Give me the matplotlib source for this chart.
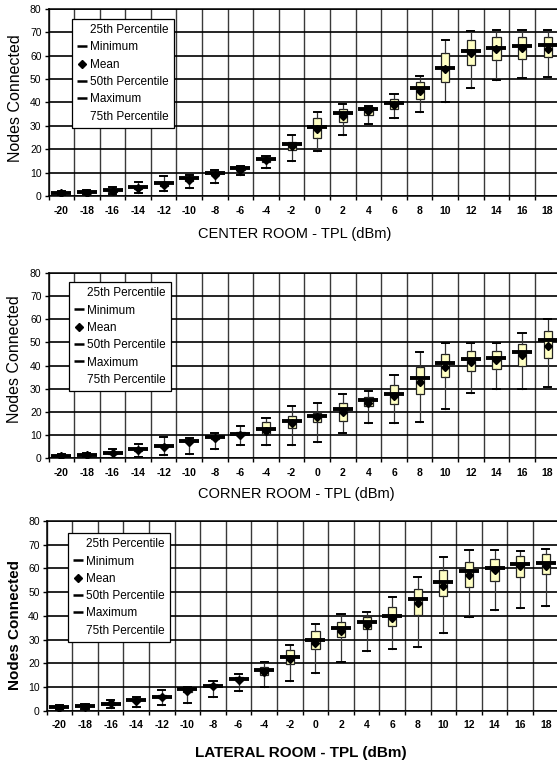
#!/usr/bin/python3
#
# Box plots of nodes connected vs. transmit power level for three room placements.

import matplotlib.pyplot as plt
import matplotlib.ticker as ticker
import numpy as np

from matplotlib import rcParams
from matplotlib.lines import Line2D

tpl_levels = list(range(-20, 20, 2))

# CENTER ROOM
center_min = [0.4, 0.7, 0.7, 1.4, 2.3, 3.3, 5.7, 9.0, 11.9, 15.0,
              19.4, 26.0, 30.8, 33.5, 35.8, 40.3, 46.3, 49.6, 50.6, 51.0]
center_q1 = [1.0, 1.2, 1.8, 2.9, 4.4, 6.6, 8.8, 10.9, 14.5, 19.7,
             24.9, 31.5, 34.6, 37.4, 41.3, 48.8, 56.0, 58.1, 58.8, 59.3]
center_med = [1.4, 1.6, 2.4, 3.7, 5.4, 7.6, 9.7, 11.9, 15.7, 22.1,
              29.6, 35.3, 37.2, 39.6, 46.0, 54.8, 62.1, 63.5, 64.1, 64.5]
center_mean = [1.1, 1.4, 2.1, 3.2, 4.8, 6.8, 9.0, 11.2, 15.2, 21.5,
               28.5, 34.2, 36.5, 38.8, 45.0, 54.3, 61.2, 62.8, 63.1, 63.0]
center_q3 = [1.7, 2.0, 2.9, 4.3, 5.9, 8.1, 10.2, 12.4, 16.3, 23.2,
             33.2, 37.0, 38.0, 41.4, 48.8, 61.0, 66.7, 67.8, 67.8, 67.8]
center_max = [2.1, 2.4, 3.7, 6.1, 8.6, 9.0, 10.9, 12.9, 17.1, 26.0,
              36.0, 39.3, 38.6, 43.7, 51.3, 66.7, 70.4, 70.9, 70.9, 70.9]

# CORNER ROOM
corner_min = [0.3, 0.7, 0.3, 0.7, 1.3, 1.9, 3.9, 5.6, 5.7, 5.7,
              7.3, 11.0, 15.2, 15.2, 15.6, 21.5, 28.0, 29.9, 29.9, 30.8]
corner_q1 = [0.8, 1.3, 1.8, 3.2, 4.8, 6.9, 8.6, 9.9, 10.7, 13.1,
             15.6, 16.3, 22.4, 23.6, 27.8, 34.9, 37.5, 38.4, 39.9, 43.1]
corner_med = [1.1, 1.7, 2.4, 3.9, 5.4, 7.6, 9.3, 10.7, 12.7, 16.3,
              18.3, 21.2, 25.2, 27.7, 34.6, 41.1, 42.7, 43.4, 46.0, 51.0]
corner_mean = [1.0, 1.5, 2.2, 3.6, 5.1, 7.1, 8.8, 10.3, 12.0, 15.3,
               17.9, 19.8, 23.9, 27.1, 33.1, 39.6, 41.7, 42.4, 44.6, 48.6]
corner_q3 = [1.4, 2.0, 2.9, 4.4, 5.9, 8.1, 9.8, 11.3, 15.6, 18.1,
             19.6, 23.9, 26.4, 31.7, 39.6, 44.9, 46.4, 46.4, 49.1, 55.0]
corner_max = [1.8, 2.5, 4.1, 6.4, 9.3, 9.0, 11.0, 13.9, 17.3, 22.4,
              24.1, 27.7, 29.1, 36.0, 46.0, 49.6, 49.6, 49.6, 54.0, 59.9]

# LATERAL ROOM
lateral_min = [0.3, 0.7, 1.0, 1.7, 2.4, 3.4, 5.6, 8.3, 10.1, 12.5,
               15.8, 20.7, 25.2, 25.9, 26.8, 32.7, 39.4, 42.5, 43.5, 44.1]
lateral_q1 = [1.0, 1.6, 2.4, 3.9, 5.3, 8.0, 10.0, 12.8, 15.0, 19.7,
              25.9, 31.0, 34.4, 35.9, 40.4, 48.5, 52.1, 54.8, 56.3, 57.7]
lateral_med = [1.4, 2.1, 2.9, 4.5, 5.9, 9.0, 10.6, 13.5, 17.0, 22.7,
               29.9, 34.8, 37.3, 40.0, 47.0, 54.4, 58.7, 60.1, 62.0, 62.3]
lateral_mean = [1.0, 1.7, 3.2, 4.2, 5.6, 8.4, 10.2, 13.0, 16.1, 21.7,
                28.7, 33.8, 36.2, 39.0, 45.4, 52.7, 57.3, 59.2, 60.8, 61.1]
lateral_q3 = [1.8, 2.5, 3.4, 5.0, 6.4, 9.9, 11.2, 14.2, 18.3, 25.4,
              33.4, 37.6, 39.4, 43.9, 51.4, 59.2, 62.7, 63.9, 65.4, 66.0]
lateral_max = [2.3, 2.8, 4.5, 5.9, 8.7, 10.1, 12.7, 15.6, 20.6, 27.7,
               36.6, 40.7, 41.5, 47.9, 56.2, 64.8, 67.9, 67.9, 67.5, 68.2]

legend_labels = ["25th Percentile", "Minimum", "Mean",
                 "50th Percentile", "Maximum", "75th Percentile"]


def make_stats(mins, q1s, meds, means, q3s, maxs):
    return [
        dict(whislo=lo, q1=q1, med=med, mean=mean, q3=q3, whishi=hi, fliers=[])
        for (lo, q1, med, mean, q3, hi) in zip(mins, q1s, meds, means, q3s, maxs)
    ]


def draw_panel(fig, rect, stats, xlabel, bold, label_pos, legend_anchor):
    ax = fig.add_axes(rect)
    pos = np.arange(len(tpl_levels))
    ax.bxp(
        stats,
        positions=pos,
        widths=0.32,
        capwidths=0.28,
        patch_artist=True,
        showmeans=True,
        showfliers=False,
        boxprops=dict(facecolor="#ffffc4", edgecolor="#222222", linewidth=0.9),
        whiskerprops=dict(color="#333333", linewidth=0.9),
        capprops=dict(color="black", linewidth=1.4),
        medianprops=dict(linewidth=0),
        meanprops=dict(marker="D", markerfacecolor="black",
                       markeredgecolor="black", markersize=4.5),
        zorder=3,
    )
    # Wide, thick median bars sticking out of each box.
    ax.plot(pos, [s["med"] for s in stats], ls="none", marker="_",
            ms=14, mew=2.8, color="black", zorder=4)

    ax.set_xlim(-0.5, len(tpl_levels) - 0.5)
    ax.set_ylim(0, 80)
    ax.set_xticks(pos)
    ax.set_xticklabels([str(t) for t in tpl_levels], fontsize=7.5, fontweight="bold")
    ax.xaxis.set_minor_locator(ticker.FixedLocator(np.arange(-0.5, len(tpl_levels), 1)))
    ax.yaxis.set_major_locator(ticker.MultipleLocator(10))
    ax.tick_params(axis="x", which="major", length=0, pad=7)
    ax.tick_params(axis="x", which="minor", length=3, width=1, direction="out")
    ax.tick_params(axis="y", length=3, width=1, labelsize=7.5, pad=2)

    ax.set_axisbelow(True)
    ax.grid(which="minor", axis="x", color="#3a3a3a", linewidth=1)
    ax.grid(which="major", axis="y", color="black", linewidth=1.2)
    for side in ("left", "bottom", "top"):
        ax.spines[side].set_color("black")
        ax.spines[side].set_linewidth(1.1)
    ax.spines["right"].set_visible(False)

    weight = "bold" if bold else "normal"
    ax.set_xlabel(xlabel, fontsize=11 if bold else 10.5, fontweight=weight)
    ax.xaxis.set_label_coords(label_pos[0], label_pos[1])
    ax.set_ylabel("Nodes Connected", fontsize=11 if bold else 11.5, fontweight=weight)
    ax.yaxis.set_label_coords(label_pos[2], label_pos[3])

    blank = Line2D([], [], ls="none")
    dash = Line2D([], [], ls="none", marker="_", ms=7, mew=1.8, color="black")
    diamond = Line2D([], [], ls="none", marker="D", ms=4.5, color="black")
    leg = ax.legend(
        [blank, dash, diamond, dash, dash, blank],
        legend_labels,
        loc="upper left",
        bbox_to_anchor=legend_anchor,
        borderaxespad=0,
        fancybox=False,
        framealpha=1,
        edgecolor="black",
        fontsize=8.5,
        handlelength=0.8,
        handletextpad=0.3,
        labelspacing=0.45,
        borderpad=0.45,
    )
    leg.get_frame().set_linewidth(0.9)
    leg.set_zorder(5)
    return ax


def main():
    rcParams["font.family"] = ["Liberation Sans", "DejaVu Sans"]
    fig = plt.figure(figsize=(5.57, 7.64), dpi=100)

    panels = [
        ((0.0871, 0.7435, 0.919, 0.2448),
         make_stats(center_min, center_q1, center_med, center_mean, center_q3, center_max),
         "CENTER ROOM - TPL (dBm)", False, (0.481, -0.166, -0.05, 0.524), (0.046, 0.947)),
        ((0.0871, 0.3999, 0.919, 0.2432),
         make_stats(corner_min, corner_q1, corner_med, corner_mean, corner_q3, corner_max),
         "CORNER ROOM - TPL (dBm)", False, (0.484, -0.153, -0.051, 0.533), (0.04, 0.95)),
        ((0.0838, 0.0698, 0.919, 0.2483),
         make_stats(lateral_min, lateral_q1, lateral_med, lateral_mean, lateral_q3, lateral_max),
         "LATERAL ROOM - TPL (dBm)", True, (0.497, -0.186, -0.048, 0.452), (0.042, 0.937)),
    ]
    for (rect, stats, xlabel, bold, label_pos, anchor) in panels:
        draw_panel(fig, rect, stats, xlabel, bold, label_pos, anchor)

    fig.savefig("out.png", dpi=100)


if __name__ == "__main__":
    main()
